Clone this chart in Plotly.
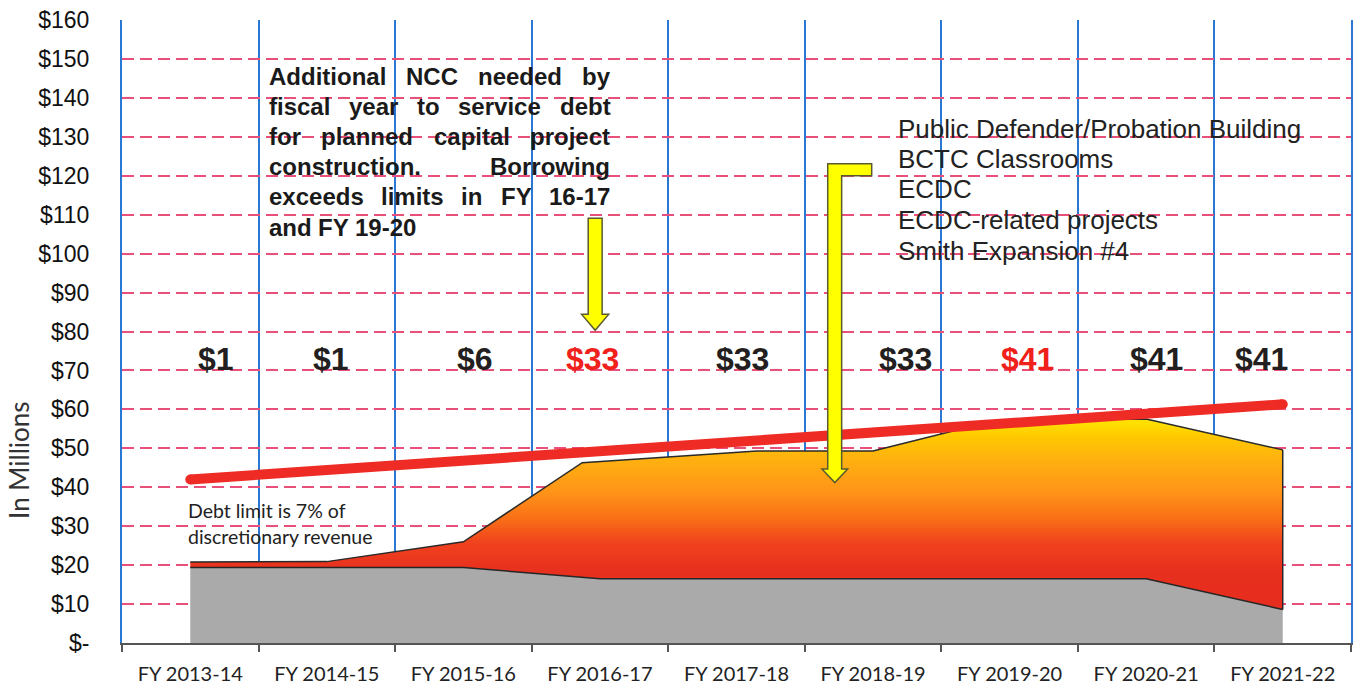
import plotly.graph_objects as go

# ---------------- data ----------------
categories = ["FY 2013-14", "FY 2014-15", "FY 2015-16", "FY 2016-17", "FY 2017-18",
              "FY 2018-19", "FY 2019-20", "FY 2020-21", "FY 2021-22"]
existing_debt = [19.4, 19.4, 19.4, 16.5, 16.5, 16.5, 16.5, 16.5, 8.6]
total_debt_x = [0, 1, 2, 2.87, 4.15, 5, 5.9, 7, 8]
total_debt = [20.8, 20.9, 26.0, 46.3, 49.3, 49.3, 57.2, 57.5, 49.6]
limit_x = [0, 8]
limit_values = [42.0, 61.3]
ncc_labels = ["$1", "$1", "$6", "$33", "$33", "$33", "$41", "$41", "$41"]
ncc_exceeds = [False, False, False, True, False, False, True, False, False]
y_tick_vals = [0, 10, 20, 30, 40, 50, 60, 70, 80, 90, 100, 110, 120, 130, 140, 150, 160]
y_tick_text = ["$-", "$10", "$20", "$30", "$40", "$50", "$60", "$70", "$80", "$90",
               "$100", "$110", "$120", "$130", "$140", "$150", "$160"]
projects = ["Public Defender/Probation Building", "BCTC Classrooms", "ECDC",
            "ECDC-related projects", "Smith Expansion #4"]
note_lines = ["Additional NCC needed by", "fiscal year to service debt",
              "for planned capital project", "construction.   Borrowing",
              "exceeds limits in FY 16-17", "and FY 19-20"]
limit_note = ["Debt limit is 7% of", "discretionary revenue"]

# ---------------- layout constants ----------------
W, H = 1357, 689
ML, MR, MT, MB = 122, 4, 20, 40
PW, PH = W - ML - MR, H - MT - MB


def px_x(px):
    return (px - ML) / PW


def px_y(py):
    return (H - MB - py) / PH


fig = go.Figure()

fig.add_trace(go.Scatter(x=list(range(len(categories))), y=existing_debt, mode="lines",
                         line=dict(color="#262626", width=1.5),
                         fill="tozeroy", fillcolor="#AAAAAA", hoverinfo="skip"))
fig.add_trace(go.Scatter(x=total_debt_x, y=total_debt, mode="lines",
                         line=dict(color="#2a2a2a", width=1.5),
                         fill="tonexty",
                         fillgradient=dict(type="vertical", start=8, stop=57.5,
                                           colorscale=[[0, "#E62C1E"], [0.242, "#E8301E"],
                                                       [0.384, "#F0421E"], [0.505, "#F96E16"],
                                                       [0.646, "#FF9418"], [0.808, "#FFB010"],
                                                       [0.929, "#FFC800"], [1, "#FFE000"]]),
                         hoverinfo="skip"))
fig.add_trace(go.Scatter(x=[total_debt_x[-1], total_debt_x[-1]],
                         y=[existing_debt[-1], total_debt[-1]], mode="lines",
                         line=dict(color="#262626", width=1.5), hoverinfo="skip"))
fig.add_trace(go.Scatter(x=limit_x, y=limit_values, mode="lines+markers",
                         line=dict(color="#EE2B24", width=10),
                         marker=dict(size=10, color="#EE2B24"), hoverinfo="skip"))

fig.update_layout(width=W, height=H, margin=dict(l=ML, r=MR, t=MT, b=MB),
                  plot_bgcolor="white", paper_bgcolor="white", showlegend=False)

fig.update_xaxes(range=[-0.5, 8.5], tickmode="array", tickvals=list(range(len(categories))),
                 ticktext=categories, showgrid=False, ticks="", zeroline=False,
                 showline=True, linecolor="#555555", linewidth=2,
                 tickfont=dict(family="Lato", size=20, color="#222222"),
                 ticklabelstandoff=12,
                 minor=dict(tickmode="array", tickvals=[i - 0.5 for i in range(len(categories) + 1)],
                            showgrid=True, gridcolor="#2A78D2", gridwidth=2,
                            ticks="outside", ticklen=7, tickcolor="#555555", tickwidth=2))
fig.update_yaxes(range=[0, 160], tickmode="array", tickvals=y_tick_vals, ticktext=y_tick_text,
                 showgrid=True, gridcolor="#E8507A", griddash="12px,6px", gridwidth=1.5,
                 zeroline=False, showline=True, linecolor="#2A78D2", linewidth=2, mirror=True,
                 ticks="", tickfont=dict(family="Liberation Sans", size=23, color="#111111"),
                 ticklabelstandoff=26)

# dollar labels per fiscal year
label_shift = [26, 4, 12, -7, 6, 32, 18, 10, -21]
for i, (lab, ex) in enumerate(zip(ncc_labels, ncc_exceeds)):
    fig.add_annotation(x=i, y=73, text=lab, showarrow=False, xshift=label_shift[i],
                       font=dict(family="Liberation Sans", size=32, weight="bold",
                                 color="#F0201A" if ex else "#231F20"))

# arrows (yellow block arrows)
def arrow_path(pts):
    return "M " + " L ".join(f"{x},{y}" for x, y in pts) + " Z"

a1 = [(2.914, 109.1), (3.016, 109.1), (3.016, 84.4), (3.064, 84.4), (2.965, 80.3),
      (2.866, 84.4), (2.914, 84.4)]
a2 = [(4.668, 123.1), (4.990, 123.1), (4.990, 120.0), (4.770, 120.0), (4.770, 44.7),
      (4.814, 44.7), (4.72, 41.2), (4.626, 44.7), (4.668, 44.7)]
for pts in (a1, a2):
    fig.add_shape(type="path", path=arrow_path(pts), xref="x", yref="y",
                  fillcolor="#FFFF00", line=dict(color="#5A5A30", width=1.5), layer="above")

# bold justified note
AB = {' ': 278, 'A': 722, 'B': 722, 'C': 722, 'F': 611, 'N': 722, 'Y': 667, 'a': 556, 'b': 611,
      'c': 556, 'd': 611, 'e': 556, 'f': 333, 'g': 611, 'i': 278, 'j': 278, 'l': 278, 'm': 889,
      'n': 611, 'o': 611, 'p': 611, 'r': 389, 's': 556, 't': 333, 'u': 611, 'v': 556, 'w': 778,
      'x': 556, 'y': 556, '.': 278, '-': 333}
for d in "0123456789":
    AB[d] = 556
fs_note = 24
note_left, note_right = 268, 610
note_centers = [77, 107, 138, 168, 198, 229]
for k, line in enumerate(note_lines):
    words = line.split()
    ww = [sum(AB.get(c, 556) for c in w) / 1000 * fs_note for w in words]
    if k < len(note_lines) - 1 and len(words) > 1:
        gap = (note_right - note_left - sum(ww)) / (len(words) - 1)
    else:
        gap = AB[' '] / 1000 * fs_note
    xpos = note_left
    for w, wdt in zip(words, ww):
        fig.add_annotation(xref="paper", yref="paper", x=px_x(xpos - 1), y=px_y(note_centers[k]),
                           xanchor="left", yanchor="middle", text=w, showarrow=False,
                           font=dict(family="Liberation Sans", size=fs_note, weight="bold",
                                     color="#1A1A1A"))
        xpos += wdt + gap

# projects list
proj_centers = [130, 160, 191, 222, 253]
for t, yc in zip(projects, proj_centers):
    fig.add_annotation(xref="paper", yref="paper", x=px_x(897), y=px_y(yc), xanchor="left",
                       yanchor="middle", text=t, showarrow=False,
                       font=dict(family="Liberation Sans", size=26, color="#222222"))

# debt limit note
for t, yc in zip(limit_note, [515, 541]):
    fig.add_annotation(xref="paper", yref="paper", x=px_x(186), y=px_y(yc), xanchor="left",
                       yanchor="middle", text=t, showarrow=False,
                       font=dict(family="Lato", size=19.5, color="#222222"))

# y axis title
fig.add_annotation(xref="paper", yref="paper", x=px_x(19), y=px_y(465), xanchor="center",
                   yanchor="middle", text="In Millions", textangle=-90, showarrow=False,
                   font=dict(family="Lato", size=26, color="#333333"))

fig.write_html("out.html")
